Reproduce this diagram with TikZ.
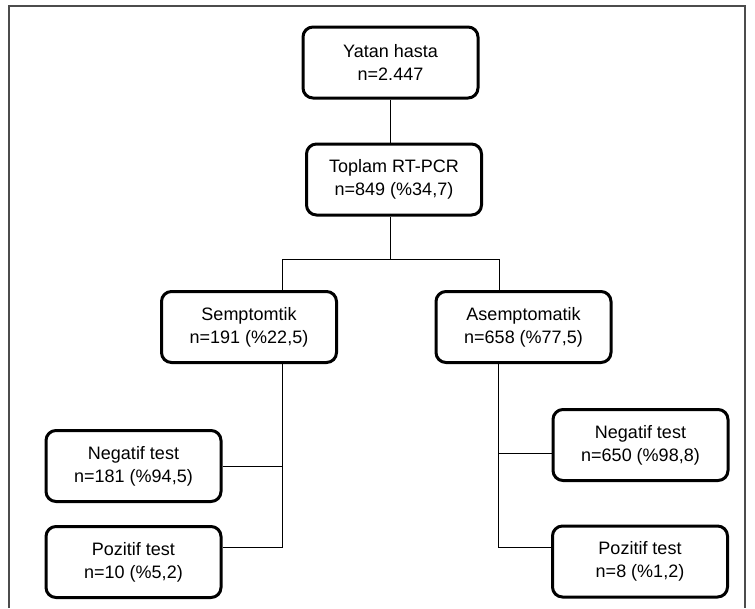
\documentclass[tikz,border=0pt]{standalone}
\usepackage{fontspec}
\setmainfont{Liberation Sans}
\usepackage{tikz}
\usetikzlibrary{calc}

\tikzset{
  kutu/.style={draw, line width=3pt, rounded corners=10pt, align=center,
    minimum width=175pt, minimum height=71pt, inner sep=0pt,
    font=\fontsize{18}{23}\selectfont},
  bag/.style={line width=1pt},
}

\begin{document}
\begin{tikzpicture}[x=1pt, y=-1pt]
    \useasboundingbox (0,0) rectangle (755,608);
    \draw[gray!60!black, line width=1.2pt] (9,608) -- (9,6) -- (745,6) -- (745,608);

    \node[kutu] (yatan) at (390.5,62.5) {Yatan hasta\\n=2.447};
    \node[kutu] (toplam) at (394,179.5) {Toplam RT-PCR\\n=849 (\%34,7)};
    \node[kutu] (semp) at (249,327) {Semptomtik\\n=191 (\%22,5)};
    \node[kutu] (asemp) at (523.5,327) {Asemptomatik\\n=658 (\%77,5)};
    \node[kutu] (negL) at (133.5,466) {Negatif test\\n=181 (\%94,5)};
    \node[kutu] (pozL) at (133.5,562) {Pozitif test\\n=10 (\%5,2)};
    \node[kutu] (negR) at (640.5,445) {Negatif test\\n=650 (\%98,8)};
    \node[kutu] (pozR) at (640,561.5) {Pozitif test\\n=8 (\%1,2)};

    \coordinate (bL) at (282,259); \coordinate (bR) at (499,259);
    \coordinate (tL) at (282,547); \coordinate (tR) at (498,547);
    \coordinate (nR) at (498,453);

    \draw[bag] (yatan.south -| 390,0) -- (toplam.north -| 390,0);
    \draw[bag] (toplam.south -| 390,0) -- (390,259);
    \draw[bag] (semp.north -| bL) -- (bL) -- (bR) -- (asemp.north -| bR);
    \draw[bag] (semp.south -| tL) -- (tL) -- (pozL.east |- tL);
    \draw[bag] (negL.east) -- (negL.east -| tL);
    \draw[bag] (asemp.south -| tR) -- (tR) -- (pozR.west |- tR);
    \draw[bag] (nR) -- (negR.west |- nR);
\end{tikzpicture}
\end{document}
